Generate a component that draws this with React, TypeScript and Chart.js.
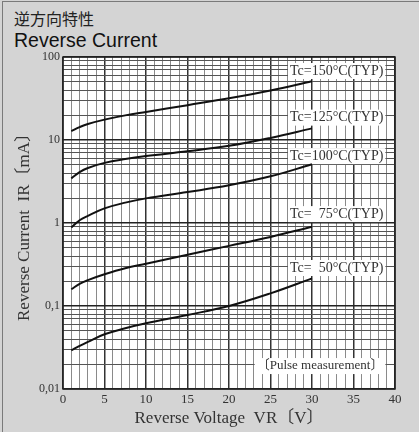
import React, { useEffect, useRef } from "react";
import { Chart, registerables } from "chart.js";

Chart.register(...registerables);

// ---- data ----
const voltage = [1, 2, 3, 5, 7.5, 10, 15, 20, 25, 30];
const ir150 = [12.8, 14.3, 15.6, 17.6, 19.8, 21.8, 26.3, 31.8, 39.5, 51];
const ir125 = [3.45, 4.1, 4.6, 5.3, 5.9, 6.4, 7.3, 8.5, 10.6, 13.8];
const ir100 = [0.88, 1.08, 1.22, 1.5, 1.76, 1.98, 2.36, 2.85, 3.65, 5.1];
const ir75 = [0.159, 0.185, 0.205, 0.241, 0.285, 0.323, 0.415, 0.53, 0.68, 0.9];
const ir50 = [0.0292, 0.033, 0.037, 0.0456, 0.054, 0.062, 0.078, 0.1, 0.142, 0.215];

const seriesList = [ir150, ir125, ir100, ir75, ir50];
const curveLabels = [
  "Tc=150°C(TYP)",
  "Tc=125°C(TYP)",
  "Tc=100°C(TYP)",
  "Tc=  75°C(TYP)",
  "Tc=  50°C(TYP)",
];
const curveLabelY = [67.8, 18.6, 6.4, 1.28, 0.287];
const labelRightX = 38.6;
const noteText = "〔Pulse measurement〕";
const noteY = 0.0189;

const xTickValues = [0, 5, 10, 15, 20, 25, 30, 35, 40];
const yTickValues = [0.01, 0.1, 1, 10, 100];
const yTickLabels = ["0,01", "0,1", "1", "10", "100"];

const titleJa = "逆方向特性";
const titleEn = "Reverse Current";
const xTitle = "Reverse Voltage  VR〔V〕";
const yTitle = "Reverse Current  IR〔mA〕";

const SERIF = "'Liberation Serif', 'Times New Roman', 'Noto Sans CJK JP', serif";

function isDecade(v: number) {
  const l = Math.log10(v);
  return Math.abs(l - Math.round(l)) < 1e-9;
}

export default function App() {
  const ref = useRef<HTMLCanvasElement | null>(null);

  useEffect(() => {
    const canvas = ref.current;
    if (!canvas) return;

    const frameAndLabels = {
      id: "frameAndLabels",
      beforeDraw(chart: any) {
        const { ctx, chartArea: a } = chart;
        ctx.save();
        ctx.fillStyle = "#ffffff";
        ctx.fillRect(a.left, a.top, a.right - a.left, a.bottom - a.top);
        ctx.restore();
      },
      beforeDatasetsDraw(chart: any) {
        const { ctx, scales } = chart;
        const xs = scales.x;
        const ys = scales.y;
        ctx.save();
        ctx.font = "14px " + SERIF;
        ctx.textBaseline = "middle";
        ctx.textAlign = "right";
        const rx = xs.getPixelForValue(labelRightX);
        const drawBox = (text: string, yv: number) => {
          const py = ys.getPixelForValue(yv);
          const w = ctx.measureText(text).width;
          ctx.fillStyle = "#ffffff";
          ctx.fillRect(rx - w - 2, py - 8, w + 4, 16);
          ctx.fillStyle = "#333333";
          ctx.fillText(text, rx, py);
        };
        curveLabels.forEach((t, i) => drawBox(t, curveLabelY[i]));
        ctx.font = "13px " + SERIF;
        drawBox(noteText, noteY);
        ctx.restore();
      },
      afterDraw(chart: any) {
        const { ctx, chartArea: a } = chart;
        ctx.save();
        ctx.strokeStyle = "#222222";
        ctx.lineWidth = 1.5;
        ctx.strokeRect(a.left, a.top, a.right - a.left, a.bottom - a.top);
        ctx.restore();
      },
    };

    const chart = new Chart(canvas, {
      type: "line",
      data: {
        datasets: seriesList.map((s, i) => ({
          label: curveLabels[i],
          data: voltage.map((v, j) => ({ x: v, y: s[j] })),
          borderColor: "#111111",
          borderWidth: 2,
          pointRadius: 0,
          fill: false,
          tension: 0.4,
        })),
      },
      plugins: [frameAndLabels],
      options: {
        responsive: false,
        animation: false,
        devicePixelRatio: 1,
        layout: { padding: { top: 57, right: 24, left: 0, bottom: 0 } },
        plugins: {
          legend: { display: false },
          tooltip: { enabled: false },
        },
        scales: {
          x: {
            type: "linear",
            min: 0,
            max: 40,
            afterFit(s: any) {
              s.height = 43;
            },
            afterBuildTicks(s: any) {
              const t = [];
              for (let v = 0; v <= 40; v++) t.push({ value: v });
              s.ticks = t;
            },
            ticks: {
              autoSkip: false,
              maxRotation: 0,
              padding: 3,
              color: "#333333",
              font: { family: SERIF, size: 13 },
              callback: (v: any) => (xTickValues.includes(Number(v)) ? String(v) : ""),
            },
            grid: {
              drawTicks: false,
              color: (c: any) => (c.tick && c.tick.value % 5 === 0 ? "#333333" : "#8a8a8a"),
              lineWidth: (c: any) => (c.tick && c.tick.value % 5 === 0 ? 1.5 : 1),
            },
            border: { display: false },
            title: {
              display: true,
              text: xTitle,
              color: "#333333",
              font: { family: SERIF, size: 17 },
              padding: { top: 0, bottom: 3 },
            },
          },
          y: {
            type: "logarithmic",
            min: 0.01,
            max: 100,
            afterFit(s: any) {
              s.width = 63;
            },
            afterBuildTicks(s: any) {
              const t = [];
              for (let e = -2; e <= 1; e++) {
                for (let m = 1; m <= 9; m++) {
                  t.push({ value: parseFloat((m * Math.pow(10, e)).toPrecision(6)) });
                }
              }
              t.push({ value: 100 });
              s.ticks = t;
            },
            ticks: {
              autoSkip: false,
              padding: 3,
              color: "#333333",
              font: { family: SERIF, size: 12 },
              callback: (v: any) => {
                const n = Number(v);
                const idx = yTickValues.findIndex((y) => Math.abs(y - n) < 1e-9);
                return idx >= 0 ? yTickLabels[idx] : "";
              },
            },
            grid: {
              drawTicks: false,
              color: (c: any) => (c.tick && isDecade(c.tick.value) ? "#222222" : "#555555"),
              lineWidth: (c: any) => (c.tick && isDecade(c.tick.value) ? 1.5 : 1),
            },
            border: { display: false },
            title: {
              display: true,
              text: yTitle,
              color: "#333333",
              font: { family: SERIF, size: 17 },
              padding: { top: 14, bottom: 0 },
            },
          },
        },
      },
    } as any);

    return () => chart.destroy();
  }, []);

  return (
    <div
      style={{
        position: "fixed",
        left: 0,
        top: 0,
        width: 419,
        height: 432,
        background: "#d4d4d4",
        overflow: "hidden",
      }}
    >
      <div
        style={{
          position: "absolute",
          left: 2,
          top: 1,
          width: 430,
          height: 440,
          border: "1.5px solid #7a7a7a",
          boxSizing: "border-box",
        }}
      />
      <div
        style={{
          position: "absolute",
          left: 14,
          top: 8,
          fontFamily: "'Noto Sans CJK JP', sans-serif",
          fontSize: 16,
          lineHeight: "20px",
          color: "#222",
        }}
      >
        {titleJa}
      </div>
      <div
        style={{
          position: "absolute",
          left: 14,
          top: 28,
          fontFamily: "'Liberation Sans', Arial, sans-serif",
          fontSize: 19.5,
          lineHeight: "24px",
          color: "#111",
        }}
      >
        {titleEn}
      </div>
      <canvas
        ref={ref}
        width={419}
        height={432}
        style={{ position: "absolute", left: 0, top: 0, width: 419, height: 432 }}
      />
    </div>
  );
}
